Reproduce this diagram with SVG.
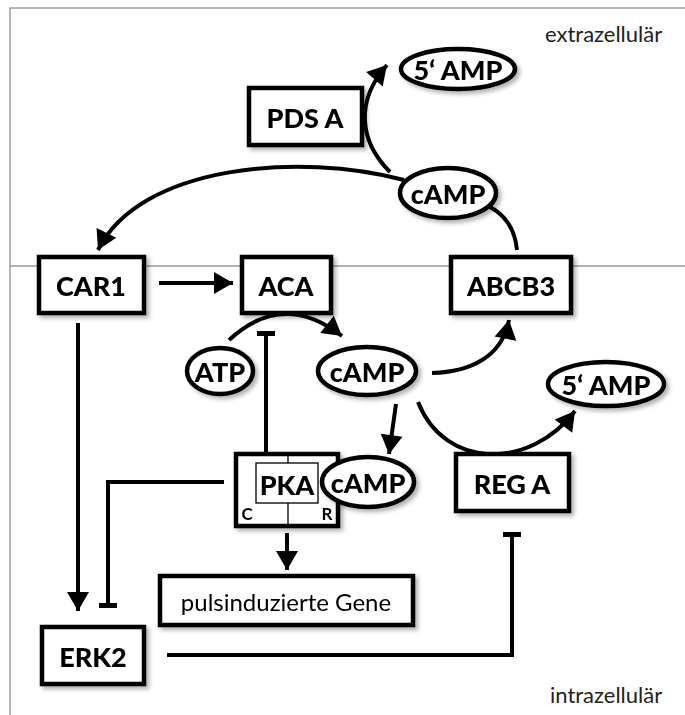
<svg xmlns="http://www.w3.org/2000/svg" width="685" height="715" viewBox="0 0 685 715">
<style>
.bg{fill:#fff}
.frame{fill:none;stroke:#888;stroke-width:1.2}
.box{fill:#fff;stroke:#000;stroke-width:4.5}
.thin{fill:none;stroke:#000;stroke-width:1.3}
.lbl{font-family:Lato,"Liberation Sans",sans-serif;font-weight:900;font-size:27px;fill:#000;text-anchor:middle;dominant-baseline:central}
.small{font-family:Lato,"Liberation Sans",sans-serif;font-weight:bold;font-size:17px;fill:#000;text-anchor:middle;dominant-baseline:central}
.reg{font-family:Lato,"Liberation Sans",sans-serif;font-size:24px;fill:#000;text-anchor:middle;dominant-baseline:central}
.zone{font-family:Lato,"Liberation Sans",sans-serif;font-size:22px;fill:#222}
.con{fill:none;stroke:#000;stroke-width:4}
.arr{marker-end:url(#ah)}
.inh{marker-end:url(#bar)}
</style>
<defs>
<filter id="sh" x="-20%" y="-20%" width="150%" height="150%">
<feDropShadow dx="3" dy="3" stdDeviation="2" flood-color="#000" flood-opacity="0.3"/>
</filter>
<marker id="ah" markerUnits="userSpaceOnUse" markerWidth="22" markerHeight="24" viewBox="0 0 22 24" refX="20" refY="12" orient="auto">
<path d="M1,1 L20,12 L1,23 Z" fill="#000"/>
</marker>
<marker id="bar" markerUnits="userSpaceOnUse" markerWidth="6" markerHeight="22" viewBox="0 0 6 22" refX="3" refY="11" orient="auto">
<rect x="0" y="2" width="5" height="18" fill="#000"/>
</marker>
</defs>
<rect class="bg" x="0" y="0" width="685" height="715"/>
<rect class="frame" x="10" y="8" width="690" height="720"/>
<line x1="10" y1="266" x2="685" y2="266" stroke="#666" stroke-width="1.2"/>
<text class="zone" x="545" y="42">extrazellulär</text>
<text class="zone" x="550" y="703">intrazellulär</text>

<g id="connectors">
<path class="con arr" d="M404,180 C300,152 140,165 98,250"/>
<path class="con arr" d="M390,172 C358,140 356,100 387,65"/>
<path class="con" d="M517,250 C515,230 505,215 490,207"/>
<path class="con arr" d="M159,283 L233,283"/>
<path class="con arr" d="M229,340 Q283,290 342,336"/>
<path class="con inh" d="M266,452 L266,333"/>
<path class="con arr" d="M432,373 C470,372 502,357 509,320"/>
<path class="con arr" d="M396,404 L389,454"/>
<path class="con arr" d="M418,402 C445,470 530,470 575,411"/>
<path class="con inh" d="M224,482 L108,482 L108,606"/>
<path class="con arr" d="M78,323 L78,611"/>
<path class="con arr" d="M287,533 L287,570"/>
<path class="con inh" d="M167,655 L512,655 L512,534"/>
</g>

<g id="pdsa" filter="url(#sh)"><rect class="box" x="249" y="88" width="113" height="57"/><text class="lbl" x="305" y="117">PDS A</text></g>
<g id="amp5top" filter="url(#sh)"><ellipse class="box" cx="458" cy="69" rx="57" ry="20"/><text class="lbl" x="458" y="69">5‘ AMP</text></g>
<g id="camptop" filter="url(#sh)"><ellipse class="box" cx="448" cy="193" rx="48" ry="25"/><text class="lbl" x="448" y="193">cAMP</text></g>
<g id="car1" filter="url(#sh)"><rect class="box" x="39" y="257" width="105" height="56"/><text class="lbl" x="91" y="285">CAR1</text></g>
<g id="aca" filter="url(#sh)"><rect class="box" x="242" y="257" width="89" height="56"/><text class="lbl" x="286" y="285">ACA</text></g>
<g id="abcb3" filter="url(#sh)"><rect class="box" x="451" y="257" width="120" height="56"/><text class="lbl" x="511" y="285">ABCB3</text></g>
<g id="atp" filter="url(#sh)"><ellipse class="box" cx="220" cy="371" rx="33" ry="23"/><text class="lbl" x="220" y="371">ATP</text></g>
<g id="campmid" filter="url(#sh)"><ellipse class="box" cx="367" cy="371" rx="49" ry="24"/><text class="lbl" x="367" y="371">cAMP</text></g>
<g id="amp5right" filter="url(#sh)"><ellipse class="box" cx="606" cy="384" rx="58" ry="22"/><text class="lbl" x="606" y="384">5‘ AMP</text></g>
<g id="pka" filter="url(#sh)">
<rect class="box" x="236" y="454" width="102" height="72"/>
<rect class="thin" x="256" y="463" width="62" height="40"/>
<line class="thin" x1="288" y1="454" x2="288" y2="463"/>
<line class="thin" x1="288" y1="503" x2="288" y2="526"/>
<text class="lbl" x="287" y="484">PKA</text>
<text class="small" x="247" y="513">C</text>
<text class="small" x="327" y="513">R</text>
</g>
<g id="camppka" filter="url(#sh)"><ellipse class="box" cx="368" cy="482" rx="46" ry="25"/><text class="lbl" x="368" y="482">cAMP</text></g>
<g id="rega" filter="url(#sh)"><rect class="box" x="456" y="454" width="113" height="57"/><text class="lbl" x="512" y="483">REG A</text></g>
<g id="genes" filter="url(#sh)"><rect class="box" x="160" y="576" width="253" height="49"/><text class="reg" x="286" y="601">pulsinduzierte Gene</text></g>
<g id="erk2" filter="url(#sh)"><rect class="box" x="42" y="627" width="102" height="57"/><text class="lbl" x="93" y="656">ERK2</text></g>
</svg>
